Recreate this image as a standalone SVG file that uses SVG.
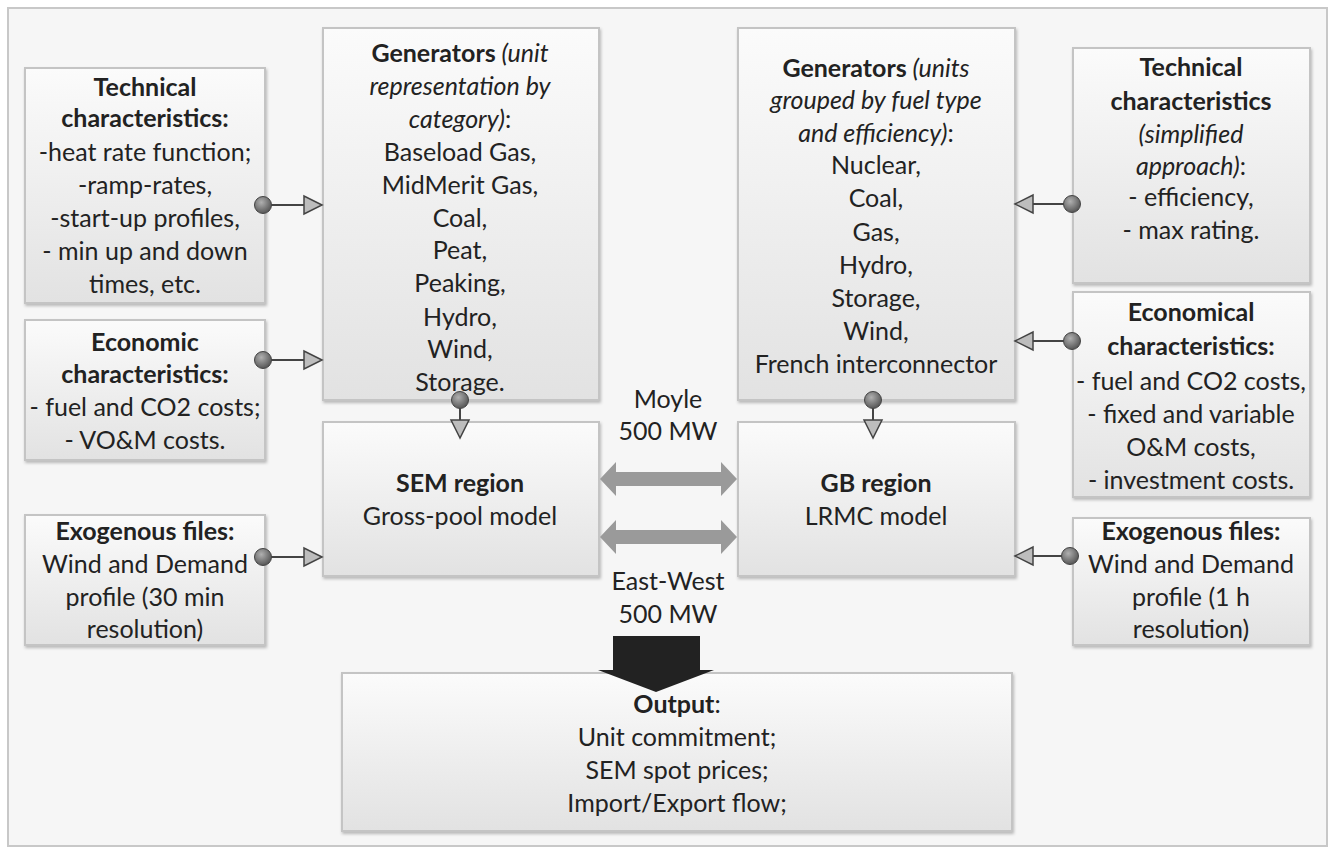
<svg xmlns="http://www.w3.org/2000/svg" width="1333" height="850" viewBox="0 0 1333 850">
<defs>
<linearGradient id="box" x1="0" y1="0" x2="0" y2="1">
<stop offset="0" stop-color="#fbfbfb"/><stop offset="1" stop-color="#e2e2e2"/>
</linearGradient>
<radialGradient id="dot" cx="0.4" cy="0.35" r="0.7">
<stop offset="0" stop-color="#b0b0b0"/><stop offset="1" stop-color="#505050"/>
</radialGradient>
<filter id="sh" x="-5%" y="-5%" width="110%" height="110%">
<feDropShadow dx="1" dy="2" stdDeviation="1.5" flood-color="#000" flood-opacity="0.25"/>
</filter>
</defs>
<style>
.bx{fill:url(#box);stroke:#c4c4c4;stroke-width:2;filter:url(#sh)}
text{font-family:Lato,"Liberation Sans",sans-serif;font-size:25px;fill:#222;text-anchor:middle}
.b{font-weight:bold}
.i{font-style:italic}
.ln{stroke:#444;stroke-width:2;fill:none}
.tri{fill:#bdbdbd;stroke:#444;stroke-width:1.5}
.dot{fill:url(#dot);stroke:#444;stroke-width:1}
.thick{fill:#9a9a9a}
</style>
<rect x="0" y="0" width="1333" height="850" fill="#ffffff"/>
<rect x="8" y="8" width="1319" height="838" fill="#f6f6f6" stroke="#c8c8c8" stroke-width="2"/>

<g id="tech-left">
<rect class="bx" x="25" y="68" width="240" height="235"/>
<text x="145" y="96" class="b">Technical</text>
<text x="145" y="127" class="b">characteristics:</text>
<text x="145" y="161">-heat rate function;</text>
<text x="145" y="194">-ramp-rates,</text>
<text x="145" y="227">-start-up profiles,</text>
<text x="145" y="260">- min up and down</text>
<text x="145" y="293">times, etc.</text>
</g>
<g id="econ-left">
<rect class="bx" x="25" y="320" width="240" height="140"/>
<text x="145" y="351" class="b">Economic</text>
<text x="145" y="383" class="b">characteristics:</text>
<text x="145" y="416">- fuel and CO2 costs;</text>
<text x="145" y="449">- VO&amp;M costs.</text>
</g>
<g id="exo-left">
<rect class="bx" x="25" y="515" width="240" height="130"/>
<text x="145" y="540" class="b">Exogenous files:</text>
<text x="145" y="573">Wind and Demand</text>
<text x="145" y="606">profile (30 min</text>
<text x="145" y="638">resolution)</text>
</g>
<g id="gen-left">
<rect class="bx" x="323" y="28" width="276" height="372"/>
<text x="460" y="62"><tspan class="b">Generators</tspan><tspan class="i"> (unit</tspan></text>
<text x="460" y="95" class="i">representation by</text>
<text x="460" y="128"><tspan class="i">category)</tspan>:</text>
<text x="460" y="161">Baseload Gas,</text>
<text x="460" y="194">MidMerit Gas,</text>
<text x="460" y="227">Coal,</text>
<text x="460" y="259">Peat,</text>
<text x="460" y="292">Peaking,</text>
<text x="460" y="326">Hydro,</text>
<text x="460" y="358">Wind,</text>
<text x="460" y="391">Storage.</text>
</g>
<g id="sem">
<rect class="bx" x="323" y="422" width="276" height="154"/>
<text x="460" y="492" class="b">SEM region</text>
<text x="460" y="525">Gross-pool model</text>
</g>
<g id="gen-right">
<rect class="bx" x="738" y="28" width="277" height="372"/>
<text x="876" y="77"><tspan class="b">Generators</tspan><tspan class="i"> (units</tspan></text>
<text x="876" y="109" class="i">grouped by fuel type</text>
<text x="876" y="142"><tspan class="i">and efficiency)</tspan>:</text>
<text x="876" y="174">Nuclear,</text>
<text x="876" y="207">Coal,</text>
<text x="876" y="241">Gas,</text>
<text x="876" y="274">Hydro,</text>
<text x="876" y="307">Storage,</text>
<text x="876" y="340">Wind,</text>
<text x="876" y="373">French interconnector</text>
</g>
<g id="gb">
<rect class="bx" x="738" y="422" width="277" height="154"/>
<text x="876" y="492" class="b">GB region</text>
<text x="876" y="525">LRMC model</text>
</g>
<g id="tech-right">
<rect class="bx" x="1073" y="48" width="237" height="235"/>
<text x="1191" y="76" class="b">Technical</text>
<text x="1191" y="110" class="b">characteristics</text>
<text x="1191" y="143" class="i">(simplified</text>
<text x="1191" y="175"><tspan class="i">approach)</tspan>:</text>
<text x="1191" y="206">- efficiency,</text>
<text x="1191" y="239">- max rating.</text>
</g>
<g id="econ-right">
<rect class="bx" x="1073" y="292" width="237" height="205"/>
<text x="1191" y="321" class="b">Economical</text>
<text x="1191" y="355" class="b">characteristics:</text>
<text x="1191" y="390">- fuel and CO2 costs,</text>
<text x="1191" y="423">- fixed and variable</text>
<text x="1191" y="456">O&amp;M costs,</text>
<text x="1191" y="489">- investment costs.</text>
</g>
<g id="exo-right">
<rect class="bx" x="1073" y="518" width="237" height="127"/>
<text x="1191" y="540" class="b">Exogenous files:</text>
<text x="1191" y="573">Wind and Demand</text>
<text x="1191" y="606">profile (1 h</text>
<text x="1191" y="638">resolution)</text>
</g>
<g id="output">
<rect class="bx" x="342" y="673" width="670" height="158"/>
<text x="677" y="713"><tspan class="b">Output</tspan>:</text>
<text x="677" y="746">Unit commitment;</text>
<text x="677" y="779">SEM spot prices;</text>
<text x="677" y="812">Import/Export flow;</text>
</g>
<g id="labels">
<text x="668" y="408">Moyle</text>
<text x="668" y="440">500 MW</text>
<text x="668" y="590">East-West</text>
<text x="668" y="623">500 MW</text>
</g>
<g id="connectors">
<path class="ln" d="M263 205H306M263 360H306M263 557H306M460 400V422M873 400V422M1072 204H1032M1072 341H1032M1070 556H1032"/>
<path class="tri" d="M322 205L304 196V214Z"/>
<path class="tri" d="M322 360L304 351V369Z"/>
<path class="tri" d="M322 557L304 548V566Z"/>
<path class="tri" d="M460 438L451 420H469Z"/>
<path class="tri" d="M873 438L864 420H882Z"/>
<path class="tri" d="M1015 204L1033 195V213Z"/>
<path class="tri" d="M1015 341L1033 332V350Z"/>
<path class="tri" d="M1015 556L1033 547V565Z"/>
<circle class="dot" cx="263" cy="205" r="8.5"/>
<circle class="dot" cx="263" cy="360" r="8.5"/>
<circle class="dot" cx="263" cy="557" r="8.5"/>
<circle class="dot" cx="460" cy="400" r="8.5"/>
<circle class="dot" cx="873" cy="400" r="8.5"/>
<circle class="dot" cx="1072" cy="204" r="8.5"/>
<circle class="dot" cx="1072" cy="341" r="8.5"/>
<circle class="dot" cx="1070" cy="556" r="8.5"/>
<path class="thick" d="M600 479L616 462V472H721V462L737 479L721 496V486H616V496Z"/>
<path class="thick" d="M600 537L616 520V530H721V520L737 537L721 554V544H616V554Z"/>
<path d="M613 636H700V670H714L656 692L598 670H613Z" fill="#222"/>
</g>
</svg>
